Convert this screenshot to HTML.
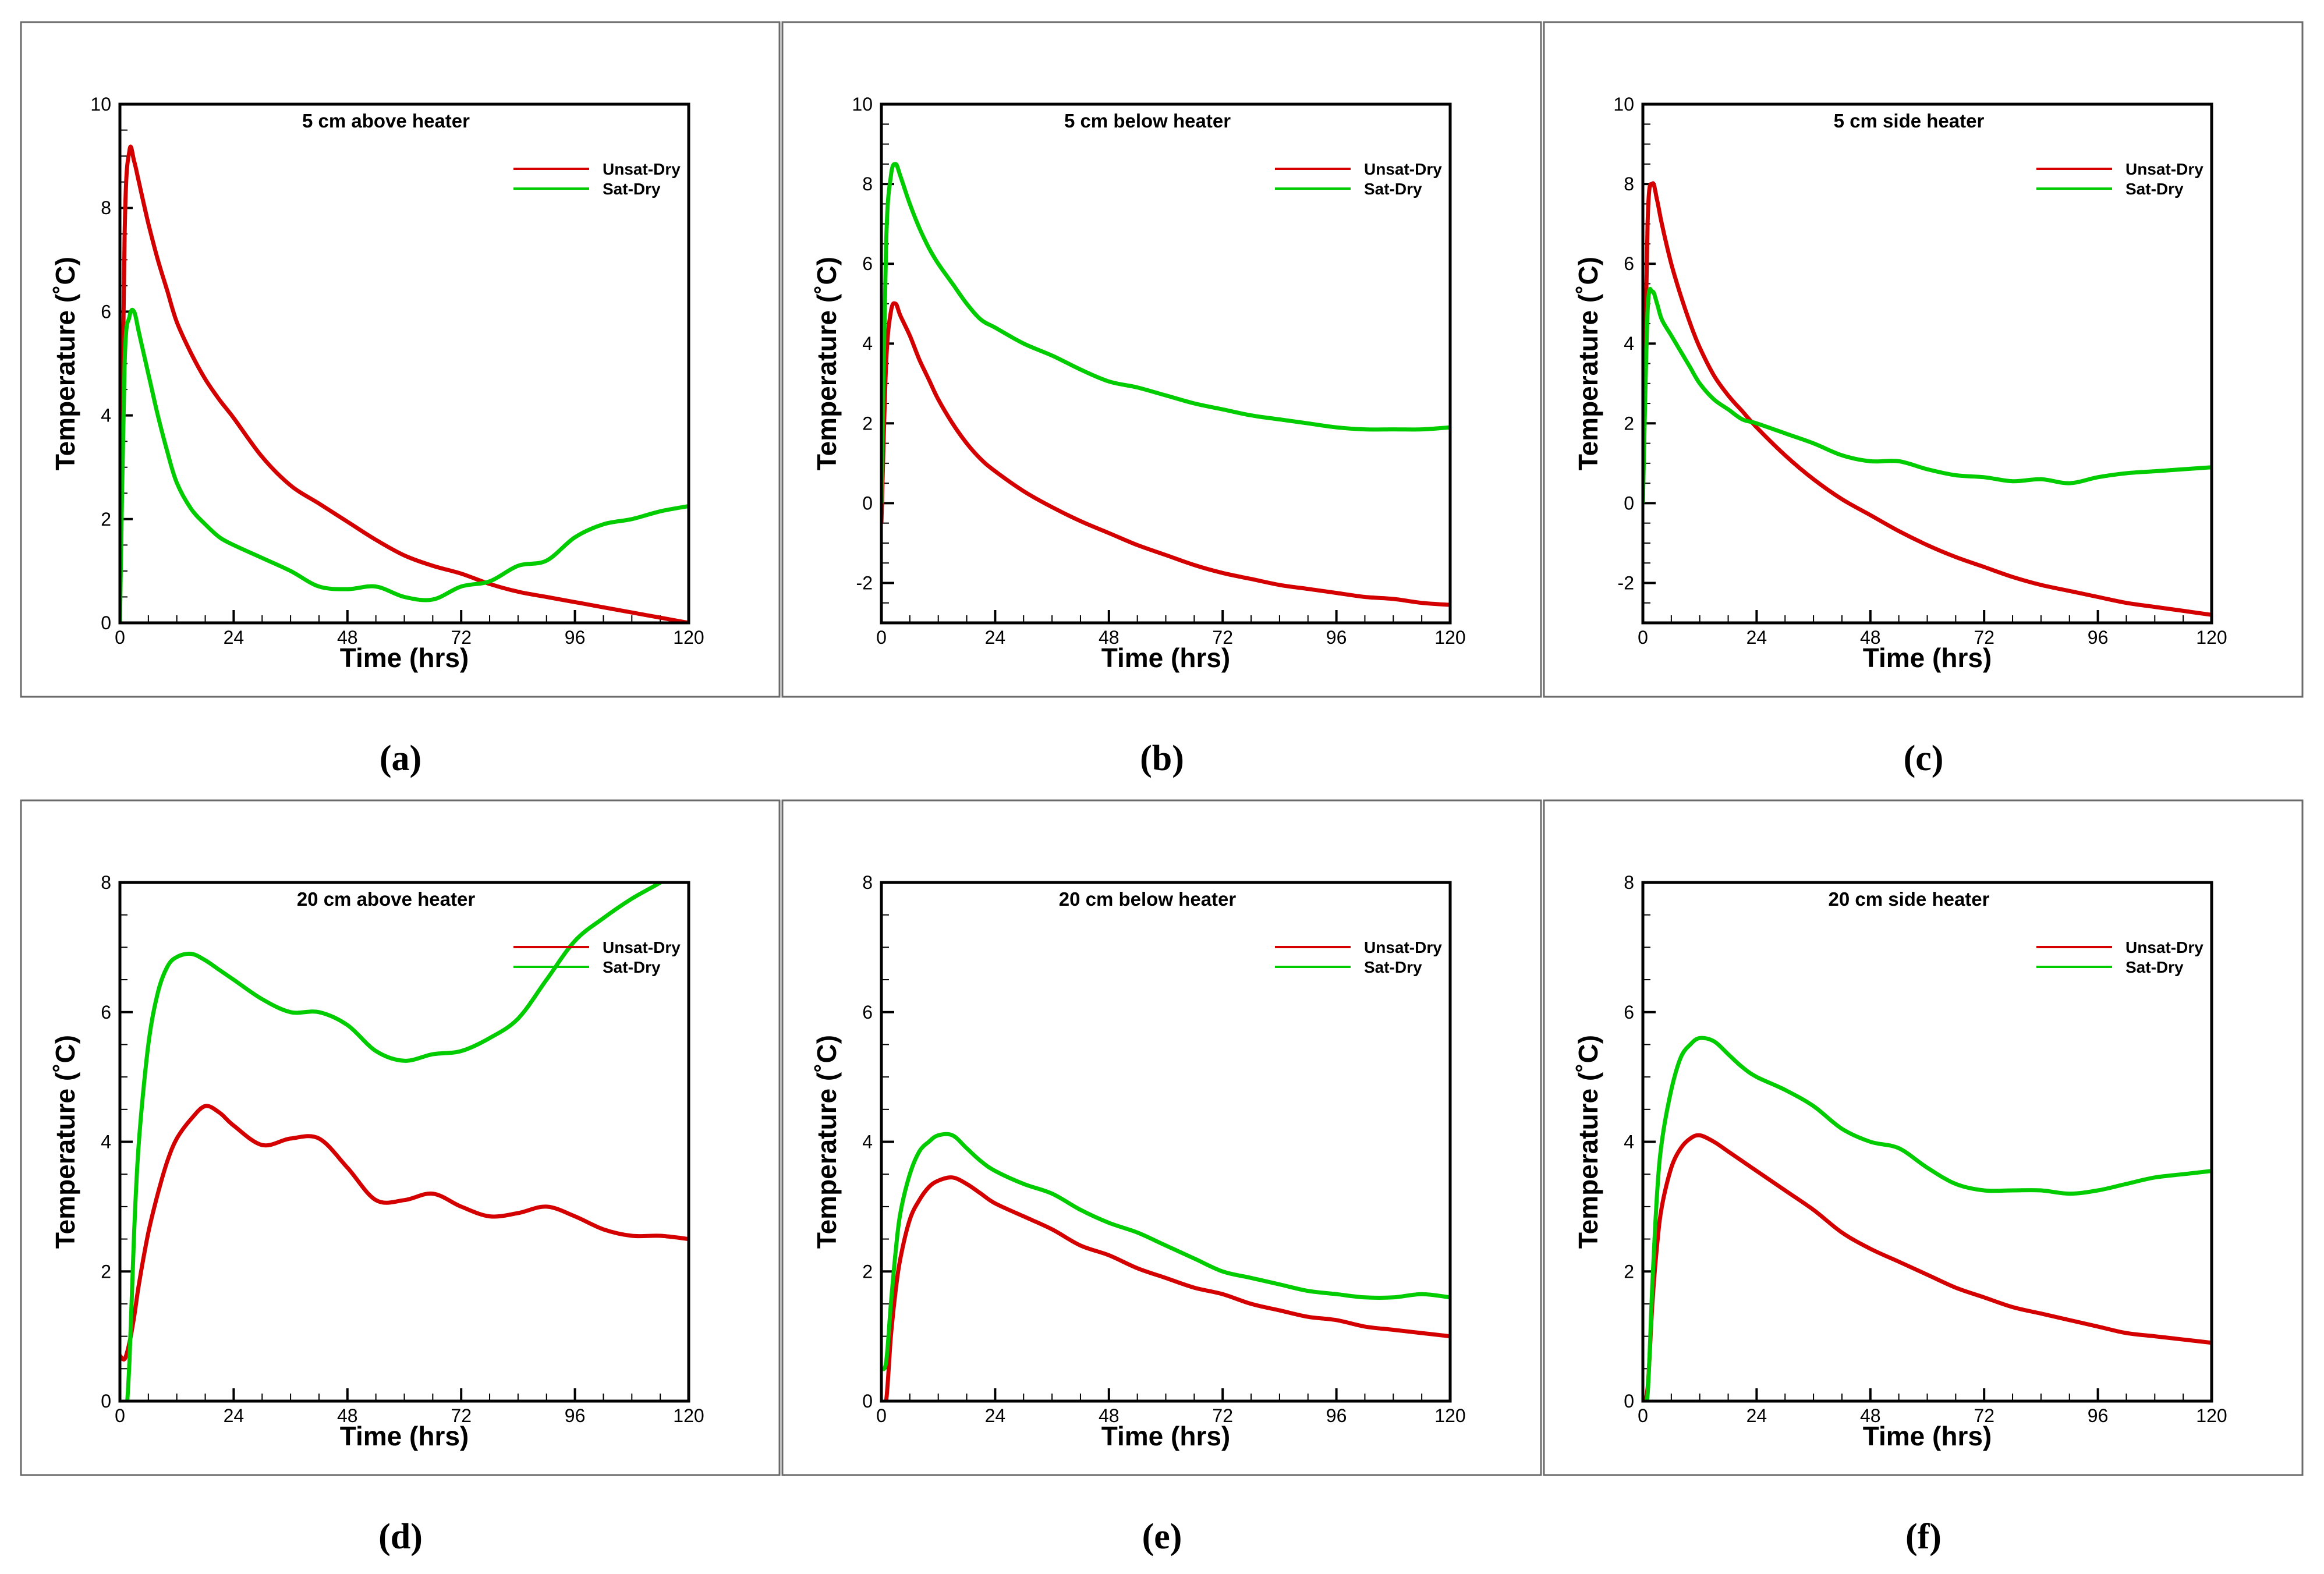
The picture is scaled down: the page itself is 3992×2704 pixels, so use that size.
<!DOCTYPE html>
<html><head><meta charset="utf-8"><style>
html,body{margin:0;padding:0;background:#fff}
svg{display:block}
text{font-family:"Liberation Sans",Arial,sans-serif}
</style></head><body>
<svg id="fig" xmlns="http://www.w3.org/2000/svg" width="3992" height="2704" viewBox="0 0 3992 2704"></svg>
<script>
const times = [0,1,2,3,4,6,8,10,12,15,18,21,24,30,36,42,48,54,60,66,72,78,84,90,96,102,108,114,120];
const xTicks = [0,24,48,72,96,120];
const titles = ["5 cm above heater","5 cm below heater","5 cm side heater","20 cm above heater","20 cm below heater","20 cm side heater"];
const panelLetters = ["(a)","(b)","(c)","(d)","(e)","(f)"];
const seriesNames = ["Unsat-Dry","Sat-Dry"];
const yTicksA = [0,2,4,6,8,10];
const yTicksB = [-2,0,2,4,6,8,10];
const yTicksD = [0,2,4,6,8];
const redA = [0,7.5,9.1,8.9,8.5,7.7,7.0,6.4,5.8,5.2,4.7,4.3,3.95,3.2,2.65,2.3,1.95,1.6,1.3,1.1,0.95,0.75,0.6,0.5,0.4,0.3,0.2,0.1,0];
const greenA = [0,5.0,5.9,6.0,5.6,4.8,4.0,3.3,2.7,2.2,1.9,1.65,1.5,1.25,1.0,0.7,0.65,0.7,0.5,0.45,0.7,0.8,1.1,1.2,1.65,1.9,2.0,2.15,2.25];
const redB = [-0.5,3.5,4.8,5.0,4.7,4.2,3.6,3.1,2.6,2.0,1.5,1.1,0.8,0.3,-0.1,-0.45,-0.75,-1.05,-1.3,-1.55,-1.75,-1.9,-2.05,-2.15,-2.25,-2.35,-2.4,-2.5,-2.55];
const greenB = [0,6.5,8.2,8.5,8.2,7.5,6.9,6.4,6.0,5.5,5.0,4.6,4.4,4.0,3.7,3.35,3.05,2.9,2.7,2.5,2.35,2.2,2.1,2.0,1.9,1.85,1.85,1.85,1.9];
const redC = [0,7.0,8.0,7.6,7.0,6.0,5.2,4.5,3.9,3.2,2.7,2.3,1.9,1.2,0.6,0.1,-0.3,-0.7,-1.05,-1.35,-1.6,-1.85,-2.05,-2.2,-2.35,-2.5,-2.6,-2.7,-2.8];
const greenC = [0,4.8,5.3,5.0,4.6,4.2,3.8,3.4,3.0,2.6,2.35,2.1,2.0,1.75,1.5,1.2,1.05,1.05,0.85,0.7,0.65,0.55,0.6,0.5,0.65,0.75,0.8,0.85,0.9];
const redD = [0.7,0.65,0.9,1.3,1.8,2.6,3.2,3.7,4.05,4.35,4.55,4.45,4.25,3.95,4.05,4.05,3.6,3.1,3.1,3.2,3.0,2.85,2.9,3.0,2.85,2.65,2.55,2.55,2.5];
const greenD = [-1.5,-0.6,0.6,2.6,4.0,5.5,6.3,6.7,6.85,6.9,6.8,6.65,6.5,6.2,6.0,6.0,5.8,5.4,5.25,5.35,5.4,5.6,5.9,6.5,7.1,7.45,7.75,8.0,8.3];
const redE = [0,0,1.0,1.7,2.2,2.8,3.1,3.3,3.4,3.45,3.35,3.2,3.05,2.85,2.65,2.4,2.25,2.05,1.9,1.75,1.65,1.5,1.4,1.3,1.25,1.15,1.1,1.05,1.0];
const greenE = [0.5,0.6,1.5,2.3,2.9,3.5,3.85,4.0,4.1,4.1,3.9,3.7,3.55,3.35,3.2,2.95,2.75,2.6,2.4,2.2,2.0,1.9,1.8,1.7,1.65,1.6,1.6,1.65,1.6];
const redF = [0,0.2,1.5,2.4,3.0,3.6,3.9,4.05,4.1,4.0,3.85,3.7,3.55,3.25,2.95,2.6,2.35,2.15,1.95,1.75,1.6,1.45,1.35,1.25,1.15,1.05,1.0,0.95,0.9];
const greenF = [0,0.1,1.8,3.2,4.0,4.8,5.3,5.5,5.6,5.55,5.35,5.15,5.0,4.8,4.55,4.2,4.0,3.9,3.6,3.35,3.25,3.25,3.25,3.2,3.25,3.35,3.45,3.5,3.55];

const NS = "http://www.w3.org/2000/svg";
const svg = document.getElementById('fig');
function mk(tag, attrs, parent){const e=document.createElementNS(NS,tag);for(const k in attrs)e.setAttribute(k,attrs[k]);(parent||svg).appendChild(e);return e;}
function smoothPath(pts){
  let d='M'+pts[0][0].toFixed(1)+','+pts[0][1].toFixed(1);
  for(let k=0;k<pts.length-1;k++){
    const p0=pts[Math.max(0,k-1)],p1=pts[k],p2=pts[k+1],p3=pts[Math.min(pts.length-1,k+2)];
    const c1=[p1[0]+(p2[0]-p0[0])/6,p1[1]+(p2[1]-p0[1])/6];
    const c2=[p2[0]-(p3[0]-p1[0])/6,p2[1]-(p3[1]-p1[1])/6];
    d+=' C'+c1[0].toFixed(1)+','+c1[1].toFixed(1)+' '+c2[0].toFixed(1)+','+c2[1].toFixed(1)+' '+p2[0].toFixed(1)+','+p2[1].toFixed(1);
  }
  return d;
}

const panels = [
 {red:redA,green:greenA,ymin:0,ymax:10,yt:yTicksA,col:0,row:0},
 {red:redB,green:greenB,ymin:-3,ymax:10,yt:yTicksB,col:1,row:0},
 {red:redC,green:greenC,ymin:-3,ymax:10,yt:yTicksB,col:2,row:0},
 {red:redD,green:greenD,ymin:0,ymax:8,yt:yTicksD,col:0,row:1},
 {red:redE,green:greenE,ymin:0,ymax:8,yt:yTicksD,col:1,row:1},
 {red:redF,green:greenF,ymin:0,ymax:8,yt:yTicksD,col:2,row:1}
];
const colOff=[0,1308,2616], rowOff=[0,1337];

panels.forEach((p,i)=>{
  const ox=colOff[p.col], oy=rowOff[p.row];
  const L=206+ox, R=1183+ox, T=179+oy, B=1070+oy;
  const xs=t=>L+(t-0)/120*(R-L);
  const ys=v=>B-(v-p.ymin)/(p.ymax-p.ymin)*(B-T);
  const g=mk('g',{});
  
  
  const fr=mk('rect',{x:36+ox,y:38+oy,width:1303,height:1159,fill:'none',stroke:'#6a6a6a','stroke-width':3},g);
  
  
  const cid='clip'+i;
  const cp=mk('clipPath',{id:cid},g);
  mk('rect',{x:L,y:T,width:R-L,height:B-T},cp);
  for(let t=0;t<=120;t+=6){ if(t%24===0) continue;
    const m=mk('line',{x1:xs(t),x2:xs(t),y1:B,y2:B-13,stroke:'#000','stroke-width':2},g);
    
    
  }
  for(let v=p.ymin;v<=p.ymax+1e-9;v+=0.5){ if(Math.abs(v%2)<1e-9) continue;
    const m=mk('line',{x1:L,x2:L+13,y1:ys(v),y2:ys(v),stroke:'#000','stroke-width':2},g);
    
    
  }
  xTicks.forEach(t=>{
    const tk=mk('line',{x1:xs(t),x2:xs(t),y1:B,y2:B-22,stroke:'#000','stroke-width':4},g);
    
    
    const tl=mk('text',{x:xs(t),y:B+36,'font-size':32,'text-anchor':'middle'},g);
    tl.textContent=t;
    
    
  });
  p.yt.forEach(v=>{
    const tk=mk('line',{x1:L,x2:L+22,y1:ys(v),y2:ys(v),stroke:'#000','stroke-width':4},g);
    
    
    const tl=mk('text',{x:L-15,y:ys(v)+11,'font-size':32,'text-anchor':'end'},g);
    tl.textContent=v;
    
    
  });
  [[p.red,'#d40000','unsat-dry-line'],[p.green,'#00cc00','sat-dry-line']].forEach(s=>{
    const pts=s[0].map((v,k)=>[xs(times[k]),ys(v)]);
    const pa=mk('path',{d:smoothPath(pts),fill:'none',stroke:s[1],'stroke-width':7,'stroke-linejoin':'round','clip-path':'url(#'+cid+')'},g);
    
    
  });
  const box=mk('rect',{x:L,y:T,width:R-L,height:B-T,fill:'none',stroke:'#000','stroke-width':5},g);
  
  
  const ti=mk('text',{x:663+ox,y:219+oy,'font-size':33,'font-weight':'bold','text-anchor':'middle'},g);
  ti.textContent=titles[i];
  
  
  [['#d40000',290,0],['#00cc00',324,1]].forEach(l=>{
    const ln=mk('line',{x1:882+ox,x2:1012+ox,y1:l[1]+oy,y2:l[1]+oy,stroke:l[0],'stroke-width':4},g);
    
    
    const lt=mk('text',{x:1035+ox,y:l[1]+oy+10,'font-size':28,'font-weight':'bold'},g);
    lt.textContent=seriesNames[l[2]];
    
    
  });
  const xt=mk('text',{x:(L+R)/2,y:1146+oy,'font-size':46,'font-weight':'bold','text-anchor':'middle'},g);
  xt.textContent='Time (hrs)';
  
  
  const yt=mk('text',{x:0,y:0,'font-size':46,'font-weight':'bold','text-anchor':'middle',transform:'translate('+(128+ox)+','+((T+B)/2)+') rotate(-90)'},g);
  yt.textContent='Temperature (˚C)';
  
  
  const pl=mk('text',{x:688+ox,y:1323+oy,'font-size':62,'font-weight':'bold','text-anchor':'middle','style':'font-family:"Liberation Serif",serif'},g);
  pl.textContent=panelLetters[i];
  
  
});
</script>
</body></html>
